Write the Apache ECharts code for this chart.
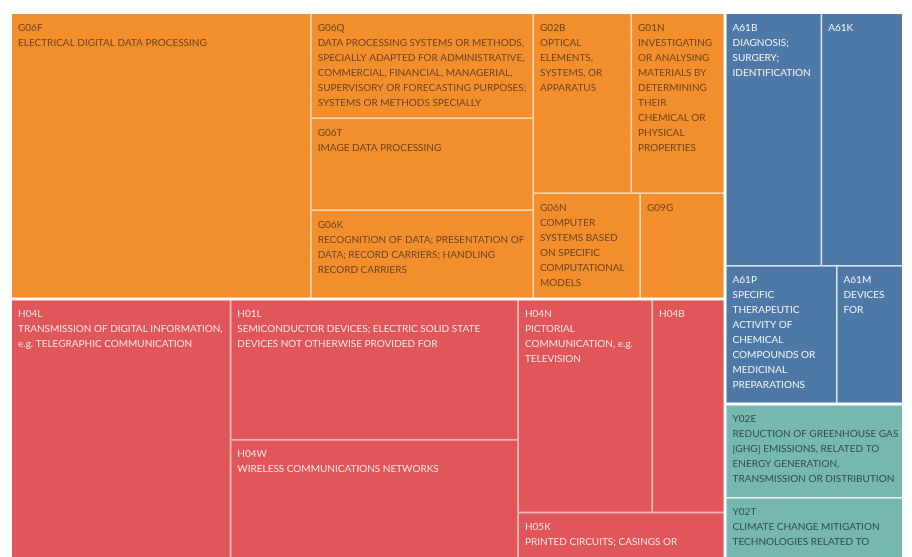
<!DOCTYPE html>
<html>
<head>
<meta charset="utf-8">
<script src="https://cdn.jsdelivr.net/npm/echarts@6/dist/echarts.min.js"></script>
<style>
html,body{margin:0;padding:0;background:#fff;}
#chart{width:912px;height:557px;}
</style>
</head>
<body>
<div id="chart"></div>
<script>
// ---- data ----
const gCodes = ['G06F','G06Q','G06T','G06K','G02B','G01N','G06N','G09G'];
const gValues = [852, 233, 204, 195, 176, 167, 112, 88];
const gDescs = [
  'ELECTRICAL DIGITAL DATA PROCESSING',
  'DATA PROCESSING SYSTEMS OR METHODS,\nSPECIALLY ADAPTED FOR ADMINISTRATIVE,\nCOMMERCIAL, FINANCIAL, MANAGERIAL,\nSUPERVISORY OR FORECASTING PURPOSES;\nSYSTEMS OR METHODS SPECIALLY',
  'IMAGE DATA PROCESSING',
  'RECOGNITION OF DATA; PRESENTATION OF\nDATA; RECORD CARRIERS; HANDLING\nRECORD CARRIERS',
  'OPTICAL\nELEMENTS,\nSYSTEMS, OR\nAPPARATUS',
  'INVESTIGATING\nOR ANALYSING\nMATERIALS BY\nDETERMINING\nTHEIR\nCHEMICAL OR\nPHYSICAL\nPROPERTIES',
  'COMPUTER\nSYSTEMS BASED\nON SPECIFIC\nCOMPUTATIONAL\nMODELS',
  ''
];
const hCodes = ['H04L','H01L','H04W','H04N','H04B','H05K'];
const hValues = [565, 402, 339, 285, 153, 93];
const hDescs = [
  'TRANSMISSION OF DIGITAL INFORMATION,\ne.g. TELEGRAPHIC COMMUNICATION',
  'SEMICONDUCTOR DEVICES; ELECTRIC SOLID STATE\nDEVICES NOT OTHERWISE PROVIDED FOR',
  'WIRELESS COMMUNICATIONS NETWORKS',
  'PICTORIAL\nCOMMUNICATION, e.g.\nTELEVISION',
  '',
  'PRINTED CIRCUITS; CASINGS OR'
];
const aCodes = ['A61B','A61K','A61P','A61M'];
const aValues = [242, 206, 153, 91];
const aDescs = [
  'DIAGNOSIS;\nSURGERY;\nIDENTIFICATION',
  '',
  'SPECIFIC\nTHERAPEUTIC\nACTIVITY OF\nCHEMICAL\nCOMPOUNDS OR\nMEDICINAL\nPREPARATIONS',
  'DEVICES\nFOR'
];
const yCodes = ['Y02E','Y02T'];
const yValues = [166, 107];
const yDescs = [
  'REDUCTION OF GREENHOUSE GAS\n[GHG] EMISSIONS, RELATED TO\nENERGY GENERATION,\nTRANSMISSION OR DISTRIBUTION',
  'CLIMATE CHANGE MITIGATION\nTECHNOLOGIES RELATED TO'
];

// ---- styles ----
function group(name, codes, values, descs, color, gapColor, textColor) {
  return {
    name: name,
    itemStyle: { color: color, borderColor: gapColor },
    children: codes.map((c, i) => ({
      name: c,
      value: values[i],
      desc: descs[i],
      itemStyle: { color: color },
      label: { color: textColor }
    }))
  };
}

const data = [
  group('G', gCodes, gValues, gDescs, '#F28E2B', '#f8d6ab', '#6b4522'),
  group('H', hCodes, hValues, hDescs, '#E15759', '#f3b6b6', '#fbe4e4'),
  group('A', aCodes, aValues, aDescs, '#4E79A7', '#dbe5ef', '#f2f5fa'),
  group('Y', yCodes, yValues, yDescs, '#76B7B2', '#e6f3f2', '#2f4f4d')
];

const chart = echarts.init(document.getElementById('chart'), null, { renderer: 'canvas' });
chart.setOption({
  animation: false,
  backgroundColor: '#ffffff',
  series: [{
    type: 'treemap',
    left: 12, top: 14, right: 10, bottom: 0,
    roam: false,
    nodeClick: false,
    breadcrumb: { show: false },
    data: data,
    label: {
      show: true,
      position: 'insideTopLeft',
      fontFamily: 'Lato',
      fontSize: 10,
      lineHeight: 15,
      padding: [6, 4, 0, 6],
      overflow: 'none',
      formatter: function (p) {
        return p.data.desc ? p.name + '\n' + p.data.desc : p.name;
      }
    },
    upperLabel: { show: false },
    levels: [
      { itemStyle: { borderWidth: 0, gapWidth: 3, borderColor: '#ffffff' } },
      { itemStyle: { borderWidth: 0, gapWidth: 1.5 } },
      { itemStyle: { borderWidth: 0, gapWidth: 0 } }
    ]
  }]
});
</script>
</body>
</html>
